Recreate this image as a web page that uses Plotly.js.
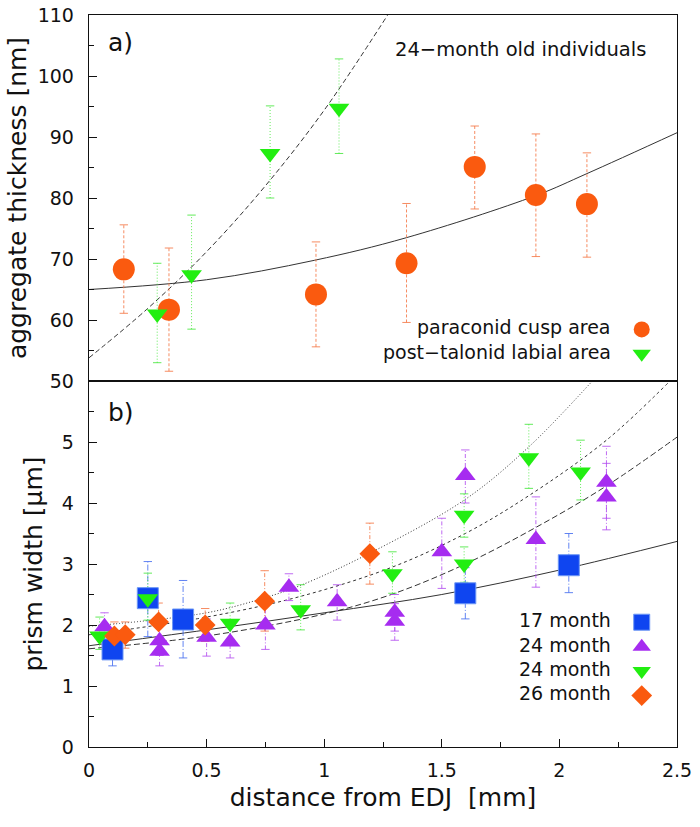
<!DOCTYPE html>
<html>
<head>
<meta charset="utf-8">
<script src="https://cdn.plot.ly/plotly-3.0.1.min.js"></script>
<style>
  html, body { margin: 0; padding: 0; background: #fff; }
  #chart { width: 700px; height: 827px; }
</style>
</head>
<body>
<div id="chart"></div>
<script>
// ---------- panel a) aggregate thickness, 24-month old individuals ----------
const paraX  = [0.148, 0.34, 0.965, 1.35, 1.64, 1.90, 2.117];
const paraY  = [68.3, 61.7, 64.2, 69.3, 85.1, 80.5, 79.0];
const paraLo = [61.1, 51.6, 55.6, 59.6, 78.2, 70.4, 70.3];
const paraHi = [75.6, 71.8, 72.8, 79.1, 91.8, 90.5, 87.4];

const talX  = [0.29, 0.436, 0.77, 1.063];
const talY  = [61.0, 67.4, 87.3, 94.7];
const talLo = [53.0, 58.5, 80.0, 87.3];
const talHi = [69.3, 77.2, 95.1, 102.8];

// fitted curves
const fitParaX = [0, 0.5, 0.96, 1.35, 1.9, 2.117, 2.5];
const fitParaY = [65.0, 66.6, 69.8, 73.5, 80.4, 84.0, 90.7];
const fitTalX  = [0, 0.25, 0.5, 0.75, 1.0, 1.27];
const fitTalY  = [53.8, 61.9, 71.2, 82.0, 94.4, 110];

// ---------- panel b) prism width ----------
const m17X  = [0.10, 0.25, 0.40, 1.60, 2.04];
const m17Y  = [1.60, 2.44, 2.09, 2.52, 2.98];
const m17Lo = [1.33, 1.81, 1.46, 2.10, 2.53];
const m17Hi = [1.87, 3.04, 2.73, 2.94, 3.50];

const m24aX  = [0.066, 0.30, 0.30, 0.50, 0.60, 0.75, 0.85, 1.055, 1.30, 1.30, 1.50, 1.60, 1.90, 2.20, 2.20];
const m24aY  = [1.97, 1.74, 1.57, 1.80, 1.72, 2.00, 2.62, 2.38, 2.21, 2.06, 3.20, 4.45, 3.40, 4.34, 4.10];
const m24aLo = [1.75, 1.50, 1.33, 1.49, 1.46, 1.60, 2.40, 2.08, 1.90, 1.75, 2.60, 4.00, 2.62, 3.75, 3.56];
const m24aHi = [2.20, 2.00, 1.80, 2.10, 2.00, 2.40, 2.84, 2.66, 2.50, 2.35, 3.75, 4.87, 4.10, 4.93, 4.65];

const m24bX  = [0.045, 0.25, 0.60, 0.90, 1.29, 1.595, 1.595, 1.87, 2.09];
const m24bY  = [1.82, 2.43, 2.03, 2.25, 2.84, 3.80, 3.00, 4.74, 4.51];
const m24bLo = [1.60, 2.08, 1.70, 1.92, 2.52, 3.44, 2.70, 4.24, 4.05];
const m24bHi = [2.13, 2.85, 2.36, 2.66, 3.20, 4.15, 3.28, 5.29, 5.03];

const m26X  = [0.108, 0.154, 0.296, 0.494, 0.747, 1.194];
const m26Y  = [1.82, 1.84, 2.05, 2.00, 2.39, 3.17];
const m26Lo = [1.62, 1.62, 1.74, 1.73, 1.90, 2.67];
const m26Hi = [2.05, 2.05, 2.36, 2.27, 2.89, 3.67];

const fit17X  = [0, 0.5, 1.0, 1.5, 2.0, 2.5];
const fit17Y  = [1.66, 1.92, 2.20, 2.50, 2.90, 3.37];
const fit24aX = [0, 0.5, 1.0, 1.3, 1.6, 1.9, 2.2, 2.5];
const fit24aY = [1.61, 1.82, 2.18, 2.52, 3.00, 3.60, 4.28, 5.08];
const fit24bX = [0, 0.5, 0.9, 1.29, 1.6, 1.87, 2.2, 2.465];
const fit24bY = [1.84, 2.13, 2.47, 2.95, 3.50, 4.12, 5.03, 5.98];
const fit26X  = [0, 0.5, 0.75, 0.9, 1.19, 1.6, 1.87, 2.14];
const fit26Y  = [1.98, 2.20, 2.45, 2.65, 3.17, 4.06, 4.92, 6.00];

// colours
const orange = '#fa5a0f', green = '#22ee11', purple = '#a62cf0', blue = '#0f45f0';
const font = 'DejaVu Sans';

// vertical dashed error bars built from the lo/hi arrays
const errTrace = (x, lo, hi, color, dash, xa, ya) => {
    const xs = [], ys = [];
    x.forEach((v, i) => { xs.push(v, v, null); ys.push(lo[i], hi[i], null); });
    return { x: xs, y: ys, xaxis: xa, yaxis: ya, mode: 'lines', line: { color, width: 1, dash },
             showlegend: false, hoverinfo: 'skip' };
};
const capTrace = (x, lo, hi, color, xa, ya) => ({
    x: x.concat(x), y: lo.concat(hi), xaxis: xa, yaxis: ya, mode: 'markers',
    marker: { symbol: 'line-ew', size: 6, color, line: { color, width: 1 } },
    showlegend: false, hoverinfo: 'skip'
});
const fitTrace = (x, y, dash, xa, ya) => ({
    x, y, xaxis: xa, yaxis: ya, mode: 'lines', line: { color: '#333', width: 1, dash, shape: 'spline' },
    showlegend: false, hoverinfo: 'skip'
});
const ptTrace = (x, y, symbol, size, color, xa, ya, legend, lineColor) => ({
    x, y, xaxis: xa, yaxis: ya, mode: 'markers', name: ' ', legend,
    marker: { symbol, size, color, line: { color: lineColor || color, width: lineColor ? 1 : 0 } }
});

const data = [
    // panel a
    fitTrace(fitParaX, fitParaY, 'solid', 'x2', 'y2'),
    fitTrace(fitTalX, fitTalY, '5px,3px', 'x2', 'y2'),
    errTrace(paraX, paraLo, paraHi, 'rgba(245,120,70,0.85)', '3px,2px', 'x2', 'y2'),
    capTrace(paraX, paraLo, paraHi, 'rgba(245,120,70,0.85)', 'x2', 'y2'),
    errTrace(talX, talLo, talHi, 'rgba(60,230,50,0.8)', '1px,2px', 'x2', 'y2'),
    capTrace(talX, talLo, talHi, 'rgba(60,230,50,0.8)', 'x2', 'y2'),
    ptTrace(paraX, paraY, 'circle', 22, orange, 'x2', 'y2', 'legend'),
    ptTrace(talX, talY, 'triangle-down', 18, green, 'x2', 'y2', 'legend'),
    // panel b
    fitTrace(fit17X, fit17Y, 'solid', 'x', 'y'),
    fitTrace(fit24aX, fit24aY, '6px,3px', 'x', 'y'),
    fitTrace(fit24bX, fit24bY, '3px,3px', 'x', 'y'),
    fitTrace(fit26X, fit26Y, '1px,2px', 'x', 'y'),
    errTrace(m17X, m17Lo, m17Hi, 'rgba(70,110,240,0.85)', '6px,2px,1px,2px', 'x', 'y'),
    capTrace(m17X, m17Lo, m17Hi, 'rgba(70,110,240,0.85)', 'x', 'y'),
    errTrace(m24aX, m24aLo, m24aHi, 'rgba(180,80,240,0.85)', '4px,2px,1px,2px', 'x', 'y'),
    capTrace(m24aX, m24aLo, m24aHi, 'rgba(180,80,240,0.85)', 'x', 'y'),
    errTrace(m24bX, m24bLo, m24bHi, 'rgba(60,230,50,0.8)', '1px,2px', 'x', 'y'),
    capTrace(m24bX, m24bLo, m24bHi, 'rgba(60,230,50,0.8)', 'x', 'y'),
    errTrace(m26X, m26Lo, m26Hi, 'rgba(245,120,70,0.85)', '4px,2px,1px,2px', 'x', 'y'),
    capTrace(m26X, m26Lo, m26Hi, 'rgba(245,120,70,0.85)', 'x', 'y'),
    ptTrace(m17X, m17Y, 'square', 21, blue, 'x', 'y', 'legend2', '#6d98f5'),
    ptTrace(m24aX, m24aY, 'triangle-up', 18, purple, 'x', 'y', 'legend2'),
    ptTrace(m24bX, m24bY, 'triangle-down', 18, green, 'x', 'y', 'legend2'),
    ptTrace(m26X, m26Y, 'diamond', 16, orange, 'x', 'y', 'legend2')
];

const tickFont = { family: font, size: 19, color: '#111' };
const frame = { showline: true, mirror: true, linecolor: '#111', linewidth: 1.3,
                showgrid: false, zeroline: false, tickcolor: '#111' };

// legend labels sit left of the legend symbols, as in the original
const legLabel = (text, y) => ({
    text, xref: 'paper', yref: 'paper', x: 0.891, y, xanchor: 'right', yanchor: 'middle',
    showarrow: false, font: { family: font, size: 19, color: '#111' }
});

const layout = {
    width: 700, height: 827,
    margin: { l: 89, r: 23, t: 15, b: 80 },
    paper_bgcolor: '#fff', plot_bgcolor: '#fff',
    font: { family: font, color: '#111' },
    xaxis: Object.assign({}, frame, {
        anchor: 'y', range: [0, 2.5], dtick: 0.5, tick0: 0,
        ticks: 'inside', ticklen: 8, tickwidth: 1,
        minor: { dtick: 0.25, tick0: 0, ticks: 'inside', ticklen: 5, tickcolor: '#111' },
        tickfont: tickFont, ticklabelstandoff: 6,
        title: { text: 'distance from EDJ\u00a0 [mm]', font: { family: font, size: 25, color: '#111' }, standoff: 8 }
    }),
    xaxis2: Object.assign({}, frame, {
        anchor: 'y2', matches: 'x', range: [0, 2.5], showticklabels: false, ticks: ''
    }),
    yaxis: Object.assign({}, frame, {
        domain: [0, 0.5], anchor: 'x', range: [0, 6], tickvals: [0, 1, 2, 3, 4, 5],
        ticks: 'inside', ticklen: 8, tickwidth: 1,
        minor: { dtick: 0.5, tick0: 0, ticks: 'inside', ticklen: 5, tickcolor: '#111' },
        tickfont: tickFont, ticklabelstandoff: 10,
        title: { text: 'prism width [µm]', font: { family: font, size: 25, color: '#111' }, standoff: 12 }
    }),
    yaxis2: Object.assign({}, frame, {
        domain: [0.5, 1], anchor: 'x2', range: [50, 110], dtick: 10, tick0: 50,
        ticks: 'inside', ticklen: 8, tickwidth: 1,
        minor: { dtick: 5, tick0: 50, ticks: 'inside', ticklen: 5, tickcolor: '#111' },
        tickfont: tickFont, ticklabelstandoff: 10,
        title: { text: 'aggregate thickness [nm]', font: { family: font, size: 25, color: '#111' }, standoff: 4 }
    }),
    legend: {
        x: 0.906, y: 0.594, xanchor: 'left', yanchor: 'top', bgcolor: 'rgba(0,0,0,0)',
        font: { family: font, size: 16.5 }, itemwidth: 30, tracegroupgap: 0
    },
    legend2: {
        x: 0.906, y: 0.194, xanchor: 'left', yanchor: 'top', bgcolor: 'rgba(0,0,0,0)',
        font: { family: font, size: 16.5 }, itemwidth: 30, tracegroupgap: 0
    },
    annotations: [
        { text: 'a)', xref: 'paper', yref: 'paper', x: 0.029, y: 0.962, xanchor: 'left', yanchor: 'middle',
          showarrow: false, font: { family: font, size: 25, color: '#111' } },
        { text: 'b)', xref: 'paper', yref: 'paper', x: 0.029, y: 0.457, xanchor: 'left', yanchor: 'middle',
          showarrow: false, font: { family: font, size: 25, color: '#111' } },
        { text: '24\u2212month old individuals', xref: 'paper', yref: 'paper', x: 0.951, y: 0.953,
          xanchor: 'right', yanchor: 'middle', showarrow: false, font: { family: font, size: 19.5, color: '#111' } },
        legLabel('paraconid cusp area', 0.5738),
        legLabel('post\u2212talonid labial area', 0.5396),
        legLabel('17 month', 0.1735),
        legLabel('24 month', 0.1400),
        legLabel('24 month', 0.1066),
        legLabel('26 month', 0.0731)
    ]
};

Plotly.newPlot('chart', data, layout, { displayModeBar: false, staticPlot: true });
</script>
</body>
</html>
